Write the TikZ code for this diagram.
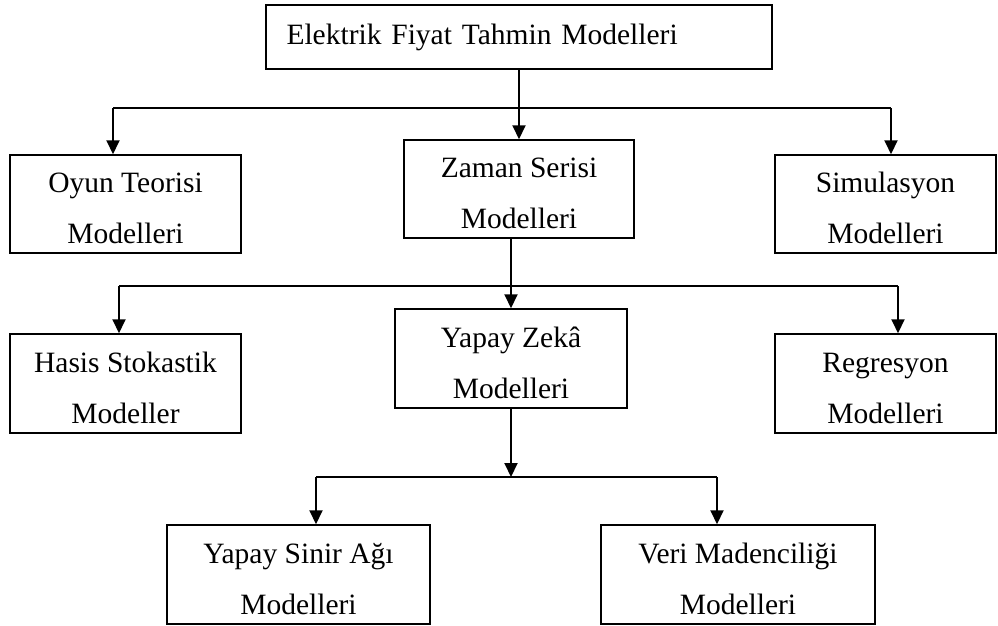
\documentclass[tikz,border=0pt]{standalone}
\usepackage{fontspec}
\setmainfont{Liberation Serif}
\usetikzlibrary{arrows.meta}
\begin{document}
\begin{tikzpicture}[x=1pt,y=-1pt,
  box/.style={draw=black, line width=1.5pt, inner sep=0pt, align=center,
    font=\fontsize{29.5}{51}\selectfont},
  topbox/.style={draw=black, line width=1.5pt, inner xsep=20.5pt, inner ysep=0pt,
    text width=465pt, align=left, minimum height=64pt,
    font=\fontsize{29.5}{36}\selectfont},
  conn/.style={line width=2pt},
  arr/.style={line width=2pt, -{Triangle[width=13pt,length=14pt]}}]
\fill[white] (0,0) rectangle (998,626);
\useasboundingbox (0,0) rectangle (998,626);
\newcommand{\fl}{\rule{0pt}{29pt}}
% nodes
\node[topbox] (top) at (519,37) {Elektrik Fiyat Tahmin Modelleri};
\node[box, minimum width=231pt, minimum height=98pt] (oyun) at (125.5,204) {\fl Oyun Teorisi\\Modelleri};
\node[box, minimum width=230pt, minimum height=98pt] (zaman) at (519,189) {\fl Zaman Serisi\\Modelleri};
\node[box, minimum width=221pt, minimum height=98pt] (sim) at (885.5,204) {\fl Simulasyon\\Modelleri};
\node[box, minimum width=231pt, minimum height=99pt] (hasis) at (125.5,383.5) {\fl Hasis Stokastik\\Modeller};
\node[box, minimum width=232pt, minimum height=99pt] (yz) at (511,358.5) {\fl Yapay Zekâ\\Modelleri};
\node[box, minimum width=221pt, minimum height=99pt] (reg) at (885.5,383.5) {\fl Regresyon\\Modelleri};
\node[box, minimum width=263pt, minimum height=99pt] (sinir) at (298.5,574.5) {\fl Yapay Sinir Ağı\\Modelleri};
\node[box, minimum width=274pt, minimum height=99pt] (veri) at (738,574.5) {\fl Veri Madenciliği\\Modelleri};
% junction points
\coordinate (a1) at (113,108);
\coordinate (b1) at (891,108);
\coordinate (a2) at (119,286);
\coordinate (b2) at (898,286);
\coordinate (c3) at (511,477);
\coordinate (a3) at (316,477);
\coordinate (b3) at (717,477);
% connectors
\draw[conn] (a1) -- (b1);
\draw[arr] (top.south) -- (zaman.north);
\draw[arr] (a1) -- (a1 |- oyun.north);
\draw[arr] (b1) -- (b1 |- sim.north);
\draw[conn] (a2) -- (b2);
\draw[arr] (yz.north |- zaman.south) -- (yz.north);
\draw[arr] (a2) -- (a2 |- hasis.north);
\draw[arr] (b2) -- (b2 |- reg.north);
\draw[arr] (yz.south) -- (c3);
\draw[conn] (a3) -- (b3);
\draw[arr] (a3) -- (a3 |- sinir.north);
\draw[arr] (b3) -- (b3 |- veri.north);
\end{tikzpicture}
\end{document}
